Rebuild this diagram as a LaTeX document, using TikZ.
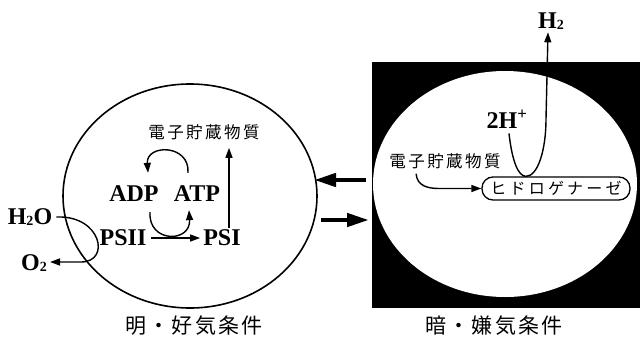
\documentclass[tikz,border=0pt]{standalone}
\usepackage{fontspec}
\setmainfont{Liberation Serif}
\newfontfamily\jpfont{Noto Sans CJK JP}
\usetikzlibrary{arrows.meta,calc}
\newcommand\lowtwo{\raisebox{-0.5pt}{\fontsize{14}{14}\selectfont 2}}
\begin{document}
\begin{tikzpicture}[x=1pt,y=-1pt,
  lat/.style={font=\fontsize{24}{24}\selectfont\bfseries, inner sep=0pt},
  jp/.style={font=\jpfont\addfontfeature{LetterSpace=15}\fontsize{16.5}{16.5}\selectfont, inner sep=0pt},
  lab/.style={font=\jpfont\addfontfeature{LetterSpace=10}\fontsize{21}{21}\selectfont, inner sep=0pt},
  hydbox/.style={draw, line width=1.3pt, rounded corners=11pt, minimum width=148pt, minimum height=23pt, inner sep=0pt,
    font=\jpfont\addfontfeature{LetterSpace=20}\fontsize{16}{16}\selectfont},
  arr/.style={line width=1.4pt, -{Triangle[length=10pt,width=7pt]}},
  big/.style={line width=4.5pt, -{Triangle[length=22pt,width=13pt]}},
]
\useasboundingbox (0,0) rectangle (640,340);
% dark panel
\fill (372,62) rectangle (640,308);
\fill[white] (505,184) ellipse [x radius=132, y radius=113];
% light panel
\draw[line width=1.6pt] (190,196) ellipse [x radius=127, y radius=112];

% nodes, left
\node[lat] (H2O) at (30,217) {H\lowtwo O};
\node[lat] (O2) at (34,263) {O\lowtwo};
\node[lat] (PSII) at (123,238) {PSII};
\node[lat] (PSI) at (222,238) {PSI};
\node[lat] (ADP) at (134,194) {ADP};
\node[lat] (ATP) at (197,194) {ATP};
\node[jp] (st1) at (204,132) {電子貯蔵物質};
% nodes, right
\node[jp] (st2) at (445,161) {電子貯蔵物質};
\node[hydbox] (hyd) at (556,188.5) {ヒドロゲナーゼ};
\node[lat] (H2) at (551,21) {H\lowtwo};
\node[lat] (twoH) at (507,119) {2H\textsuperscript{+}};
% captions
\node[lab] (L1) at (194,326) {明・好気条件};
\node[lab] (L2) at (494,326) {暗・嫌気条件};

% connectors, left
\draw[arr, shorten <=4pt, shorten >=3pt] (PSII.east) -- (PSI.west);
\draw[arr] ($(ATP.north)+(-9,-13)$) .. controls +(2,-29) and +(-2,-29) .. ($(ADP.north)+(14,-13)$);
\draw[arr] ($(ADP.south)+(16,10)$) .. controls +(-2,31) and +(2,33) .. ($(ATP.south)+(-8,8)$);
\draw[arr] ($(PSI.north)+(7,-2)$) -- ($(st1.south)+(25,8)$);
\draw[arr] ($(H2O.east)+(4,0)$) .. controls +(45,-2) and +(30,0) .. ($(O2.east)+(34,-1)$) -- ($(O2.east)+(3,-1)$);

% connectors, right
\draw[arr] ($(twoH.south)+(2,5)$) .. controls +(3,27) and +(-8,0) .. ($(hyd.north)+(-30,0)$)
   .. controls +(12,0) and +(0,30) .. ($(hyd.north)+(-10,-57)$) -- ($(H2.south)+(-3,3)$);
\draw[arr] ($(st2.south west)+(27,5)$) .. controls +(1,12) and +(-12,0) .. ($(hyd.west)+(-42,0)$) -- (hyd.west);

% arrows between panels
\coordinate (a1) at (366,180);
\coordinate (a2) at (314,180);
\coordinate (b1) at (321,220);
\coordinate (b2) at (369,220);
\draw[big] (a1) -- (a2);
\draw[big] (b1) -- (b2);
\end{tikzpicture}
\end{document}
